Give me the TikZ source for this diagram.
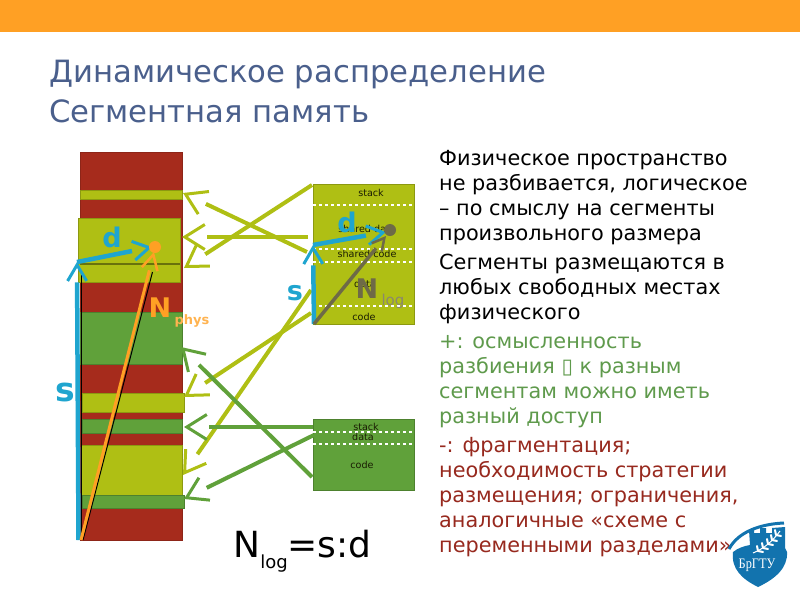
\documentclass[tikz,border=0pt]{standalone}
\usepackage{fontspec}
\setmainfont{DejaVu Sans}
\newfontfamily\logofont{Liberation Serif}
\usepackage{xcolor}
\usetikzlibrary{arrows, arrows.meta, positioning, calc}
\definecolor{myorange}{HTML}{FFA024}
\definecolor{myred}{HTML}{A62B1C}
\definecolor{myyellow}{HTML}{AFBF14}
\definecolor{mygreen}{HTML}{60A13A}
\definecolor{myblue}{HTML}{1FA5CF}
\definecolor{mytitle}{HTML}{4A5F8C}
\definecolor{mybrown}{HTML}{6E6A47}
\definecolor{mylogo}{HTML}{1273AE}
\definecolor{mytextgreen}{HTML}{5F9A4C}
\definecolor{mytextred}{HTML}{97291E}
\tikzset{
  >=latex,
  % Segments
  seg red/.style={fill=myred,draw=myred!85!black,line width=1pt},
  seg yellow/.style={fill=myyellow,draw=myyellow!80!black,line width=1pt},
  seg green/.style={fill=mygreen,draw=mygreen!80!black,line width=1pt},
  seg cut/.style={white,line width=2.5pt,dash pattern=on 3pt off 3pt},
  seg label/.style={inner sep=0,font=\fontsize{9.6}{9.6}\selectfont,text=black!85!myyellow},
  % Connections
  connect/.style={line width=4pt,-{. _[sep=1pt] Straight Barb[length=20pt,width=25pt,line width=3pt]}},
  connect yellow/.style={connect,myyellow},
  connect green/.style={connect,mygreen},
  connect blue/.style={line width=4.5pt,myblue,-{. _[sep=0pt] Straight Barb[length=16pt,width=19pt,line width=3pt]}},
  connect orange/.style={line width=3pt,myorange,-{. _[sep=0pt] Straight Barb[length=15pt,width=16pt,line width=2.5pt]}},
  connect brown/.style={line width=3.5pt,mybrown,-{. _[sep=0pt] Straight Barb[length=12pt,width=13pt,line width=2.5pt]}},
  % Texts
  big label/.style={inner sep=0,font=\bfseries\fontsize{27}{27}\selectfont},
  body/.style={anchor=north west,inner sep=0,align=left,font=\fontsize{20.8}{25}\selectfont}
}
\begin{document}
\begin{tikzpicture}[x=1pt,y=-1pt]
    \useasboundingbox (0,0) rectangle (800,600);
    \fill[myorange] (0,0) rectangle (800,32);
    \node[anchor=north west,inner sep=0,align=left,text=mytitle,font=\fontsize{30.7}{40}\selectfont] (Title) at (49,60)
      {Динамическое распределение\\Сегментная память};

    % Physical memory
    \draw[seg red]    (80,152) rectangle (182,540);
    \draw[seg yellow] (80,190) rectangle (182,199);
    \draw[seg yellow] (78,218) rectangle (180,282);
    \draw[myyellow!60!black, line width=2pt] (80,264) -- (180,264);
    \draw[seg green]  (80,312) rectangle (182,364);
    \draw[seg yellow] (82,393) rectangle (184,412);
    \draw[seg green]  (82,419) rectangle (182,433);
    \draw[seg yellow] (81,445) rectangle (182,495);
    \draw[seg green]  (82,495) rectangle (184,508);

    % Logical segments
    \draw[seg yellow] (313,184) rectangle (414,324);
    \draw[seg cut] (313,205) -- (414,205);
    \draw[seg cut] (313,249) -- (414,249);
    \draw[seg cut] (313,262) -- (414,262);
    \draw[seg cut] (313,306) -- (414,306);
    \node[seg label] (LabelStack1)  at (371,193) {stack};
    \node[seg label] (LabelShared1) at (367,229) {shared data};
    \node[seg label] (LabelShared2) at (367,254) {shared code};
    \node[seg label] (LabelData1)   at (365,284) {data};
    \node[seg label] (LabelCode1)   at (364,317) {code};
    \draw[seg green] (313,419) rectangle (414,490);
    \draw[seg cut] (313,432) -- (414,432);
    \draw[seg cut] (313,444) -- (414,444);
    \node[seg label] (LabelStack2) at (366,427) {stack};
    \node[seg label] (LabelData2)  at (363,437) {data};
    \node[seg label] (LabelCode2)  at (362,465) {code};

    % Ends of the mapping arrows
    \coordinate (Seg1a) at (307,252);
    \coordinate (Seg1b) at (308,237);
    \coordinate (Seg1c) at (312,185);
    \coordinate (Seg1d) at (311,313);
    \coordinate (Seg1e) at (311,290);
    \coordinate (Seg2a) at (312,477);
    \coordinate (Seg2b) at (313,427);
    \coordinate (Seg2c) at (314,435);
    \coordinate (Phys1) at (183,193);
    \coordinate (Phys2) at (182,237);
    \coordinate (Phys3) at (184,268);
    \coordinate (Phys4) at (184,397);
    \coordinate (Phys5) at (183,475);
    \coordinate (Phys6) at (181,347);
    \coordinate (Phys7) at (184,427);
    \coordinate (Phys8) at (184,499);
    \draw[connect yellow] (Seg1a) -- (Phys1);
    \draw[connect yellow] (Seg1b) -- (Phys2);
    \draw[connect yellow] (Seg1c) -- (Phys3);
    \draw[connect yellow] (Seg1d) -- (Phys4);
    \draw[connect yellow] (Seg1e) -- (Phys5);
    \draw[connect green]  (Seg2a) -- (Phys6);
    \draw[connect green]  (Seg2b) -- (Phys7);
    \draw[connect green]  (Seg2c) -- (Phys8);

    % Address in physical memory
    \coordinate (Zero1) at (78.5,540);
    \coordinate (Base1) at (77,262);
    \coordinate (Addr1) at (152,247);
    \coordinate (Start1) at (81,540);
    \coordinate (Tip1)  at (154,252);
    \draw[black, line width=1pt] (81,540) -- (81,275);
    \draw[connect blue] (Zero1) -- (Base1);
    \draw[connect blue] (Base1) -- (Addr1);
    \draw[black, line width=1pt] (83,540) -- (152.5,272);
    \draw[connect orange] (Start1) -- (Tip1);
    \node[circle, fill=myorange, inner sep=0, minimum size=12] (Dot1) at (155,247) {};
    \node[big label, text=myblue] (LabelD1) at (112,237) {d};
    \node[big label, text=myblue, font=\bfseries\fontsize{33}{33}\selectfont] (LabelS1) at (65,392) {s};
    \node[big label, text=myorange] (LabelN1) at (160,308) {N};
    \node[inner sep=0, text=myorange!80!white, font=\bfseries\fontsize{13}{13}\selectfont] (LabelPhys) at (192,321) {phys};

    % Address in logical memory
    \coordinate (Zero2) at (314,324);
    \coordinate (Base2) at (313,245);
    \coordinate (Addr2) at (386,232);
    \coordinate (Tip2)  at (386,236);
    \draw[connect blue] (Zero2) -- (Base2);
    \draw[connect blue] (Base2) -- (Addr2);
    \draw[connect brown] (Zero2) -- (Tip2);
    \node[circle, fill=mybrown, inner sep=0, minimum size=12] (Dot2) at (390,230) {};
    \node[big label, text=myblue] (LabelD2) at (347,222) {d};
    \node[big label, text=myblue] (LabelS2) at (295,293) {s};
    \node[big label, text=mybrown] (LabelN2) at (367,289) {N};
    \node[inner sep=0, text=mybrown!80!white, font=\fontsize{15}{15}\selectfont] (LabelLog) at (393,301) {log};

    \node[inner sep=0, font=\fontsize{36}{36}\selectfont] (Formula) at (302.5,551)
      {N\raisebox{-.3em}{\fontsize{18}{18}\selectfont log}=s:d};

    % Text on the right
    \node[body] (Text1) at (439,150)
      {Физическое пространство\\не разбивается, логическое\\– по смыслу на сегменты\\произвольного размера};
    \node[body] (Text2) at (439,254)
      {Сегменты размещаются в\\любых свободных местах\\физического};
    \node[body, text=mytextgreen] (Text3) at (439,335)
      {+: осмысленность\\разбиения ▯ к разным\\сегментам можно иметь\\разный доступ};
    \node[body, text=mytextred] (Text4) at (439,437)
      {-: фрагментация;\\необходимость стратегии\\размещения; ограничения,\\аналогичные «схеме с\\переменными разделами»};

    % Logo
    \fill[mylogo] (733,552) .. controls (738,548) and (744,546) .. (750,545) -- (749,530) -- (754,530) -- (754,533)
      -- (760,533) -- (760,528) -- (766,528) -- (766,533) -- (772,533) -- (772,528) -- (785,527)
      -- (785,548) -- (787,552) .. controls (788,568) and (775,579) .. (758,587) .. controls (742,579) and (731,569) .. (733,552) -- cycle;
    \draw[mylogo, line width=3pt] (729,549) .. controls (738,532) and (760,524) .. (784,523);
    \draw[white, line width=1pt] (753,553) .. controls (763,549) and (772,542) .. (780,531);
    \foreach \lx/\ly in {758/551, 763/548, 768/544, 772/540, 776/535}
      \draw[white, line width=2pt, line cap=round] (\lx,\ly) -- ++(-1,-5) (\lx,\ly) -- ++(5,1);
    \node[inner sep=0, text=white, xscale=.85, font=\logofont\fontsize{14.5}{14.5}\selectfont] (LabelLogo) at (757,565) {БрГТУ};
\end{tikzpicture}
\end{document}
